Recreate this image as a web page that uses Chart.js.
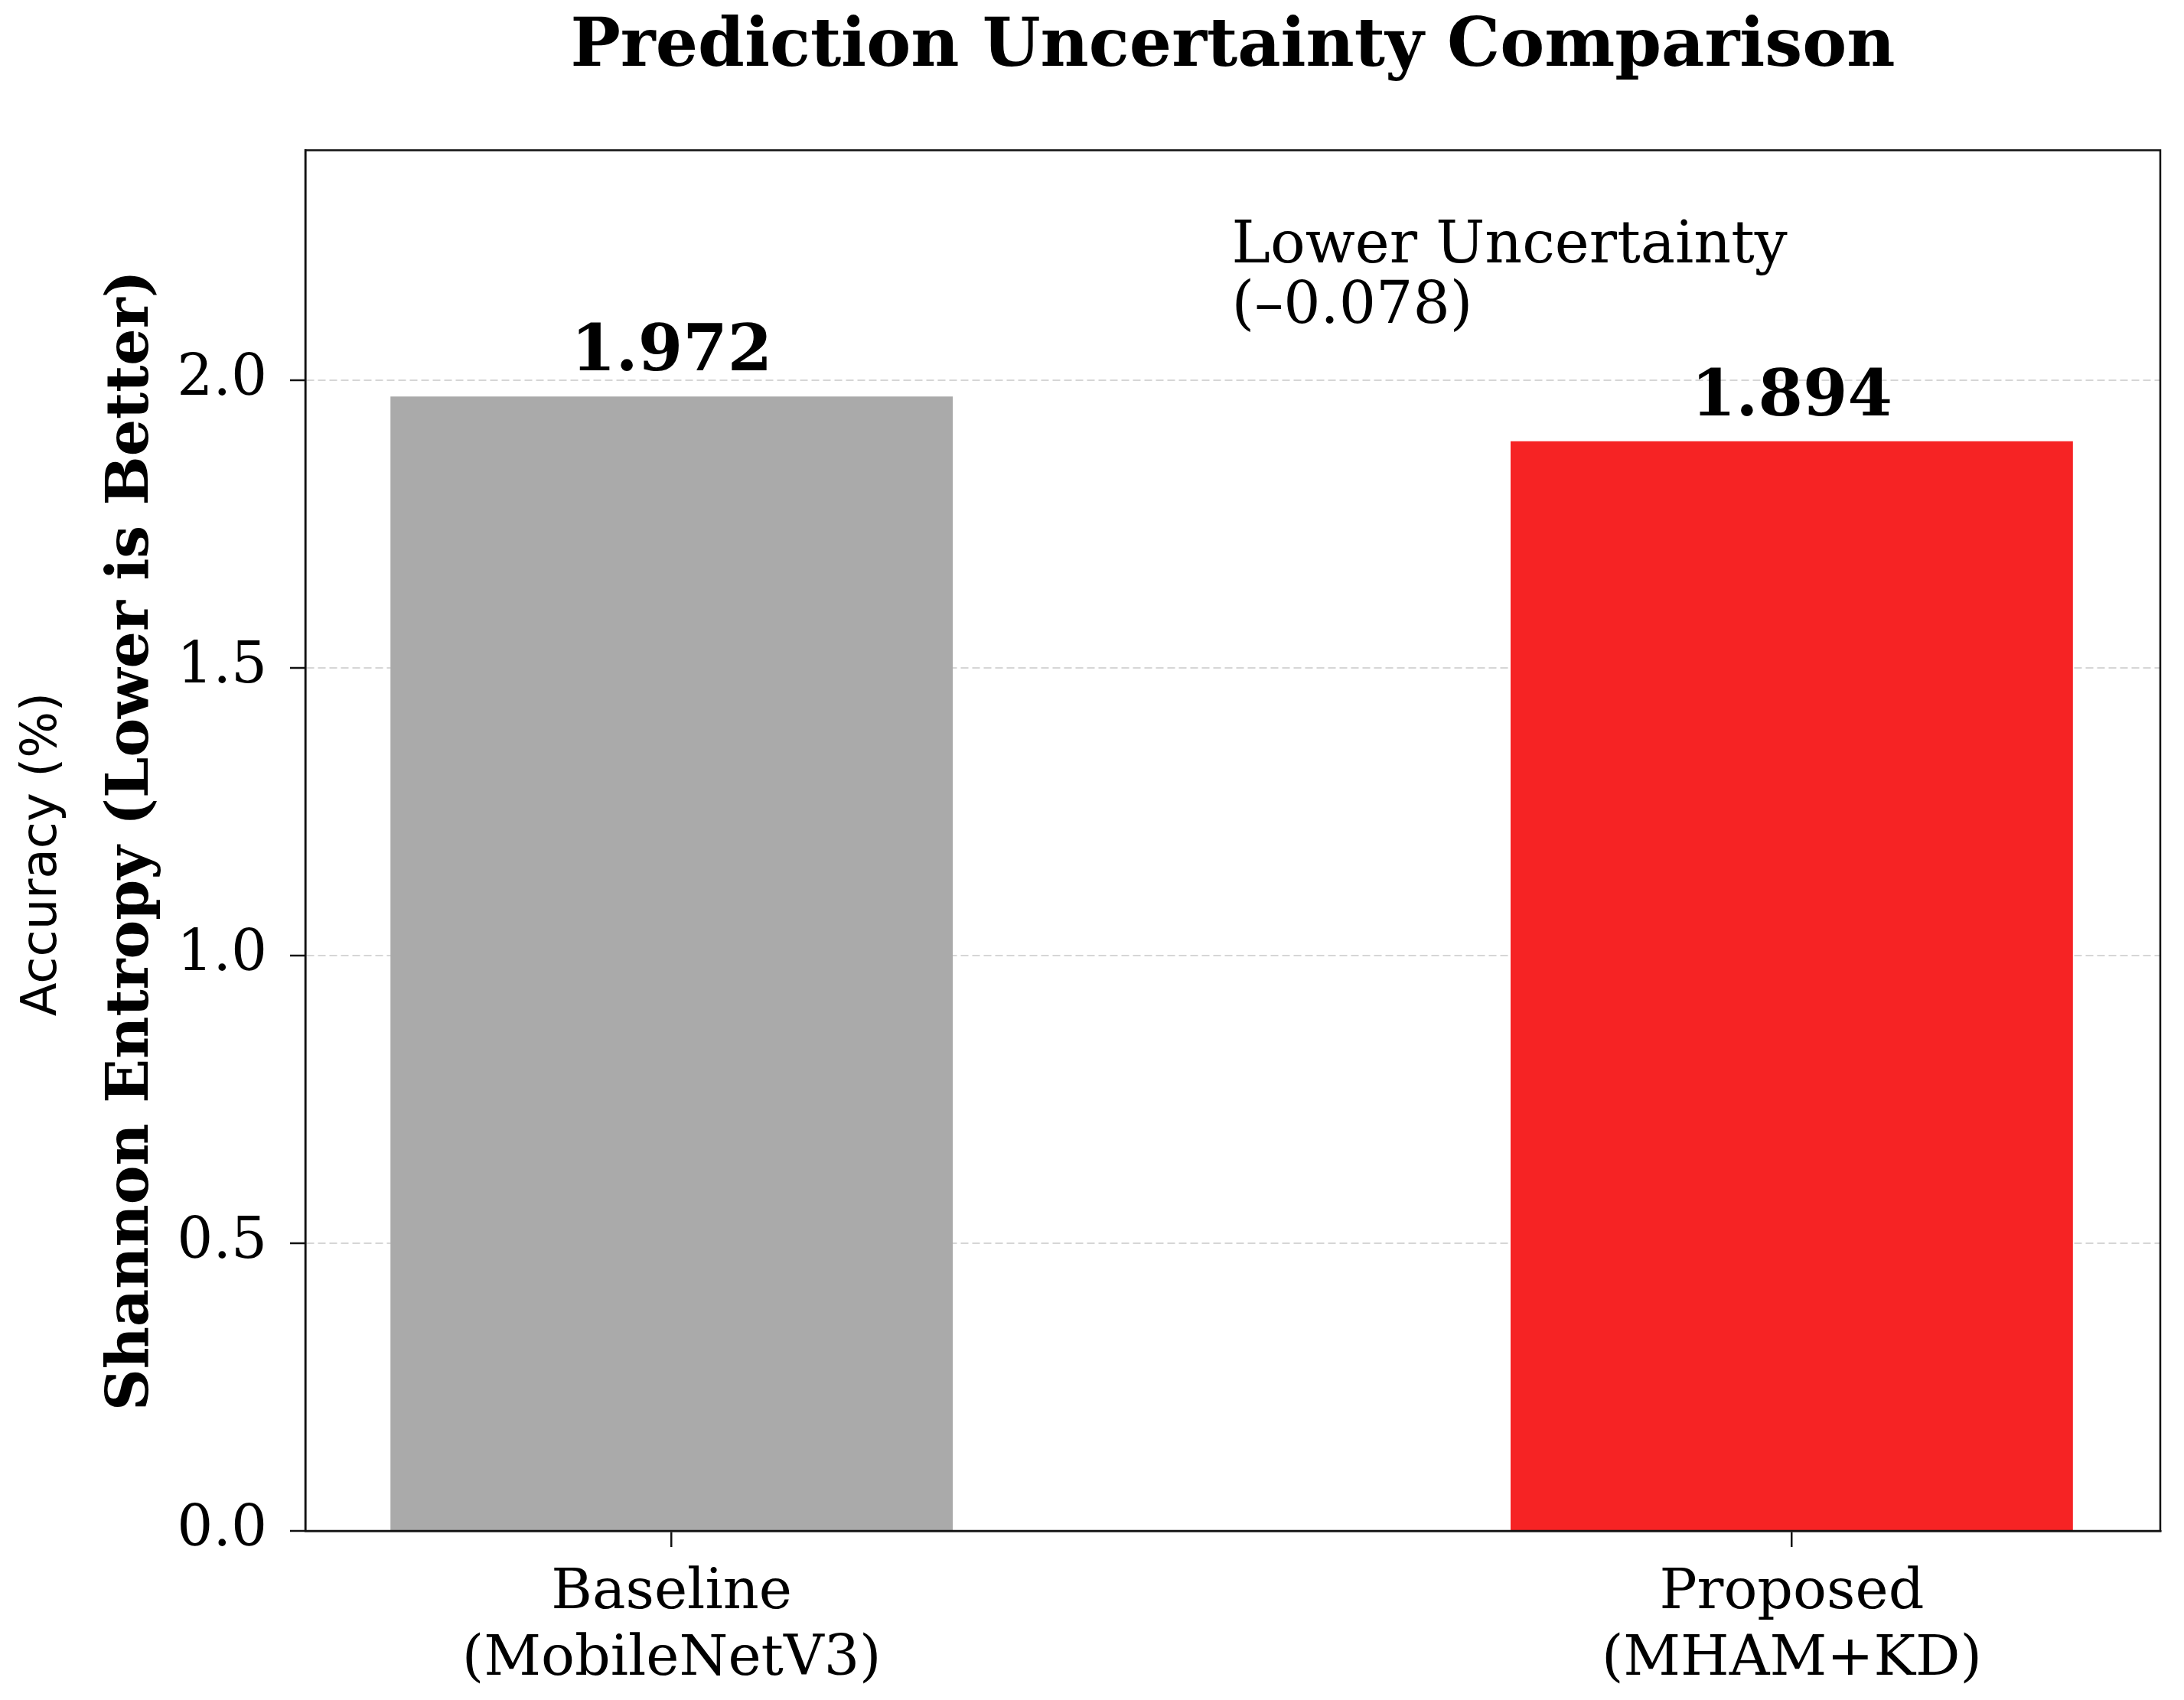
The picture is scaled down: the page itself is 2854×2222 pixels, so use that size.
<!DOCTYPE html>
<html>
<head>
<meta charset="utf-8">
<title>Prediction Uncertainty Comparison</title>
<script src="https://cdn.jsdelivr.net/npm/chart.js@4.4.1/dist/chart.umd.min.js"></script>
<style>
  html, body { margin: 0; padding: 0; background: #fff; }
  canvas { display: block; }
</style>
</head>
<body>
<canvas id="chart" width="2854" height="2222"></canvas>
<script>
// --- данные ---
const categories   = [["Baseline", "(MobileNetV3)"], ["Proposed", "(MHAM+KD)"]];
const barPositions = [0, 1];
const entropy      = [1.972, 1.894];
const barColors    = ["#aaaaaa", "#f62324"];
const yTicks       = [0.0, 0.5, 1.0, 1.5, 2.0];
const noteLines    = ["Lower Uncertainty", "(\u20130.078)"];

const SERIF = "'DejaVu Serif', serif";
const SANS  = "'DejaVu Sans', sans-serif";

// рамка вокруг области графика + подписи над столбцами + аннотация
const extras = {
  id: "extras",
  afterDatasetsDraw(chart) {
    const { ctx, chartArea: a, scales: { x, y } } = chart;
    const meta = chart.getDatasetMeta(0);

    ctx.save();
    ctx.fillStyle = "#000";
    ctx.textAlign = "center";
    ctx.textBaseline = "alphabetic";
    ctx.font = "bold 84px " + SERIF;
    meta.data.forEach((bar, i) => {
      ctx.fillText(entropy[i].toFixed(3), bar.x, bar.y - 34);
    });

    // аннотация разницы
    ctx.textAlign = "left";
    ctx.font = "76px " + SERIF;
    const nx = x.getPixelForValue(0.5);
    const ny = y.getPixelForValue(2.1);
    ctx.fillText(noteLines[0], nx, ny - 79);
    ctx.fillText(noteLines[1], nx, ny);

    // второй (лишний) заголовок оси, как в оригинале
    ctx.save();
    ctx.translate(56, (a.top + a.bottom) / 2 + 18);
    ctx.rotate(-Math.PI / 2);
    ctx.textAlign = "center";
    ctx.textBaseline = "middle";
    ctx.font = "64px " + SANS;
    ctx.fillText("Accuracy (%)", 0, 0);
    ctx.restore();

    // рамка
    ctx.strokeStyle = "#111";
    ctx.lineWidth = 2.5;
    ctx.strokeRect(a.left, a.top, a.right - a.left, a.bottom - a.top);
    ctx.restore();
  }
};

new Chart(document.getElementById("chart"), {
  type: "bar",
  data: {
    datasets: [{
      data: barPositions.map((p, i) => ({ x: p, y: entropy[i] })),
      backgroundColor: barColors,
      borderWidth: 0,
      categoryPercentage: 1.0,
      barPercentage: 0.502,
    }],
  },
  options: {
    responsive: false,
    animation: false,
    devicePixelRatio: 1,
    layout: { padding: { left: 0, right: 31, top: 0, bottom: 0 } },
    plugins: {
      legend: { display: false },
      tooltip: { enabled: false },
      title: {
        display: true,
        fullSize: false,
        text: "Prediction Uncertainty Comparison",
        color: "#000",
        font: { family: SERIF, size: 87, weight: "bold" },
        padding: { top: 11, bottom: 81 },
      },
    },
    scales: {
      x: {
        type: "linear",
        min: -0.327,
        max: 1.329,
        offset: false,
        afterBuildTicks: s => { s.ticks = barPositions.map(v => ({ value: v })); },
        afterFit: s => { s.height = 221; },
        ticks: {
          callback: (v, i) => categories[i],
          color: "#000",
          font: { family: SERIF, size: 73, lineHeight: 1.2 },
          padding: 17,
          maxRotation: 0,
          autoSkip: false,
        },
        grid: {
          offset: false,
          drawOnChartArea: false,
          drawTicks: true,
          tickLength: 21,
          color: "#111",
          lineWidth: 2.5,
        },
        border: { display: true, color: "#111", width: 2.5 },
      },
      y: {
        type: "linear",
        min: 0,
        max: 2.4,
        afterBuildTicks: s => { s.ticks = yTicks.map(v => ({ value: v })); },
        afterFit: s => { s.width = 399; },
        ticks: {
          callback: v => v.toFixed(1),
          color: "#000",
          font: { family: SERIF, size: 74 },
          padding: 30,
        },
        grid: {
          drawOnChartArea: true,
          drawTicks: true,
          tickLength: 20,
          color: ctx => ctx.tick && ctx.tick.value === 0 ? "rgba(0,0,0,0)" : "#d6d6d6",
          lineWidth: 2,
          tickColor: "#111",
          tickWidth: 2.5,
          tickBorderDash: [],
        },
        border: { display: true, color: "#111", width: 2.5, dash: [10, 5] },
        title: {
          display: true,
          text: "Shannon Entropy (Lower is Better)",
          color: "#000",
          font: { family: SERIF, size: 76, weight: "bold" },
          padding: { top: 128, bottom: 0 },
        },
      },
    },
  },
  plugins: [extras],
});
</script>
</body>
</html>
